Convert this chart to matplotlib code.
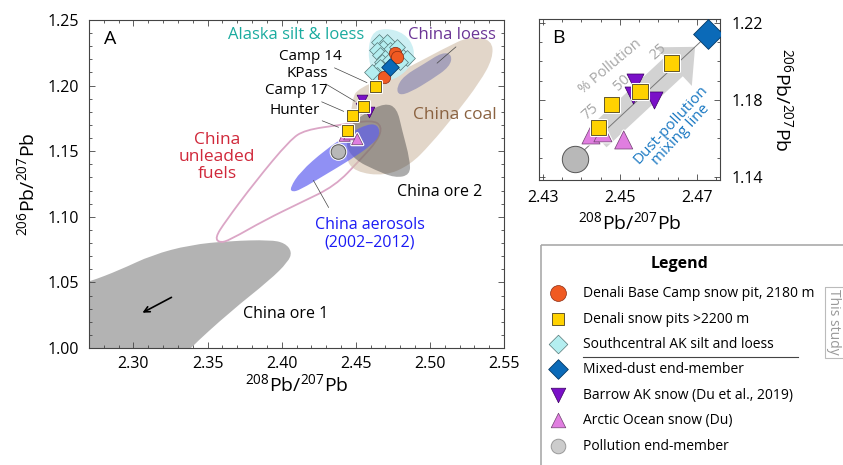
import numpy as np
import matplotlib
matplotlib.use('Agg')
import matplotlib.pyplot as plt
from matplotlib.path import Path
from matplotlib.patches import PathPatch, Rectangle
from matplotlib.ticker import MultipleLocator, FixedLocator
import matplotlib.patheffects as pe

plt.rcParams['font.family'] = ['Open Sans', 'DejaVu Sans']
plt.rcParams['mathtext.fontset'] = 'custom'
plt.rcParams['mathtext.rm'] = 'Open Sans'

# Pb isotope ratios: (208Pb/207Pb, 206Pb/207Pb)
base_camp_x = [2.4765, 2.4778, 2.4690]
base_camp_y = [1.2249, 1.2218, 1.2066]
pit_names = ['Hunter', 'Camp 17', 'KPass', 'Camp 14']
pits_x = [2.4445, 2.4479, 2.4552, 2.4635]
pits_y = [1.1655, 1.1774, 1.1842, 1.1992]
silt_x = [2.4657, 2.4711, 2.4684, 2.4731, 2.4643, 2.4778, 2.4663, 2.4697,
          2.4819, 2.4846, 2.4677, 2.4663, 2.4643, 2.4609, 2.4798, 2.4731]
silt_y = [1.2332, 1.2332, 1.2287, 1.2271, 1.2271, 1.2294, 1.2233, 1.2210,
          1.2218, 1.2210, 1.2180, 1.2142, 1.2081, 1.2104, 1.2180, 1.2195]
dust_x, dust_y = [2.4730], [1.2140]
barrow_x = [2.4539, 2.4534, 2.4588]
barrow_y = [1.1894, 1.1826, 1.1800]
arctic_x = [2.4425, 2.4456, 2.4510]
arctic_y = [1.1618, 1.1629, 1.1592]
pollution_x, pollution_y = [2.4383], [1.1494]

# source-field outlines (control points of smooth closed curves)
ore1_x = [2.2504, 2.2700, 2.2909, 2.3125, 2.3381, 2.3651, 2.3921, 2.4022,
          2.4070, 2.4043, 2.3921, 2.3651, 2.3368, 2.3179, 2.2504]
ore1_y = [1.0443, 1.0504, 1.0595, 1.0709, 1.0786, 1.0816, 1.0824, 1.0801,
          1.0732, 1.0656, 1.0519, 1.0275, 0.9985, 0.9757, 0.9757]
ore2_x = [2.4427, 2.4461, 2.4562, 2.4697, 2.4778, 2.4812, 2.4866, 2.4866,
          2.4765, 2.4630, 2.4495]
ore2_y = [1.1547, 1.1700, 1.1791, 1.1868, 1.1829, 1.1662, 1.1433, 1.1319,
          1.1296, 1.1357, 1.1433]
coal_x = [2.4515, 2.4798, 2.5102, 2.5271, 2.5419, 2.5426, 2.5338, 2.5169,
          2.5001, 2.4866, 2.4697, 2.4495, 2.4427, 2.4461, 2.4474]
coal_y = [1.1982, 1.2104, 1.2287, 1.2378, 1.2348, 1.2210, 1.2028, 1.1776,
          1.1548, 1.1395, 1.1311, 1.1342, 1.1448, 1.1662, 1.1890]
aero_x = [2.4056, 2.4124, 2.4292, 2.4461, 2.4582, 2.4650, 2.4663, 2.4609,
          2.4461, 2.4292, 2.4124, 2.4070]
aero_y = [1.1220, 1.1342, 1.1509, 1.1639, 1.1708, 1.1700, 1.1624, 1.1548,
          1.1433, 1.1319, 1.1205, 1.1189]
fuel_x = [2.3550, 2.3618, 2.3820, 2.4056, 2.4157, 2.4393, 2.4609, 2.4677,
          2.4650, 2.4528, 2.4360, 2.4124, 2.3888, 2.3651, 2.3584]
fuel_y = [1.0839, 1.0961, 1.1266, 1.1586, 1.1662, 1.1700, 1.1738, 1.1692,
          1.1586, 1.1433, 1.1235, 1.1106, 1.0976, 1.0824, 1.0801]
silt_field_x = [2.4600, 2.4700, 2.4830, 2.4900, 2.4880, 2.4760, 2.4640, 2.4580]
silt_field_y = [1.2400, 1.2440, 1.2400, 1.2280, 1.2150, 1.2040, 1.2030, 1.2200]
loess_x = [2.4775, 2.4825, 2.4960, 2.5085, 2.5150, 2.5135, 2.5010, 2.4870, 2.4790]
loess_y = [1.1985, 1.2075, 1.2165, 1.2255, 1.2235, 1.2145, 1.2045, 1.1950, 1.1925]


def smooth_patch(xs, ys, **kw):
    pts = np.column_stack([xs, ys])
    mids = (pts + np.roll(pts, -1, axis=0)) / 2
    verts = [mids[-1]]
    codes = [Path.MOVETO]
    for p, m in zip(pts, mids):
        verts += [p, m]
        codes += [Path.CURVE3, Path.CURVE3]
    return PathPatch(Path(verts, codes), **kw)


halo = [pe.Stroke(linewidth=2.2, foreground='white'), pe.Normal()]

styles = {
    'base': dict(marker='o', c='#f05a22', edgecolors='#8a2a10', linewidths=0.5),
    'pits': dict(marker='s', c='#ffd200', edgecolors='#4a4020', linewidths=0.6),
    'silt': dict(marker='D', c='#b4eef0', edgecolors='#557777', linewidths=0.5),
    'dust': dict(marker='D', c='#0b6ab8', edgecolors='#063a66', linewidths=0.6),
    'barrow': dict(marker='v', c='#7a10c8', edgecolors='#3a0060', linewidths=0.5),
    'arctic': dict(marker='^', c='#e07ee0', edgecolors='#704070', linewidths=0.5),
    'poll': dict(marker='o', c='#b8b8b8', edgecolors='#555555', linewidths=0.7),
}


def style_axes(ax):
    for s in ax.spines.values():
        s.set_color('#444444')
        s.set_linewidth(0.8)
    ax.tick_params(which='both', direction='in', top=True, right=True,
                   color='#444444', width=0.6, labelsize=11.5)
    ax.tick_params(which='major', length=4)
    ax.tick_params(which='minor', length=2.5)


fig = plt.figure(figsize=(8.43, 4.65), dpi=100)

# ---- panel A ----
ax = fig.add_axes([89 / 843, 1 - 348 / 465, 415 / 843, 328 / 465])
ax.set_xlim(2.27, 2.55)
ax.set_ylim(1.00, 1.25)
ax.xaxis.set_major_locator(MultipleLocator(0.05))
ax.xaxis.set_minor_locator(MultipleLocator(0.01))
ax.yaxis.set_major_locator(MultipleLocator(0.05))
ax.yaxis.set_minor_locator(MultipleLocator(0.01))
ax.xaxis.set_major_formatter('{x:.2f}')
ax.yaxis.set_major_formatter('{x:.2f}')
style_axes(ax)
ax.tick_params(axis='x', pad=6)
ax.tick_params(axis='y', pad=7)

ax.add_patch(smooth_patch(ore1_x, ore1_y, fc='#b3b3b3', ec='none', zorder=1))
ax.add_patch(smooth_patch(fuel_x, fuel_y, fc='none', ec='#dba6c6', lw=1.3, zorder=2))
ax.add_patch(smooth_patch(coal_x, coal_y, fc='#cfbca6', ec='none', alpha=0.6, zorder=2))
ax.add_patch(smooth_patch(ore2_x, ore2_y, fc='#3a3a3a', ec='none', alpha=0.42, zorder=3))
ax.add_patch(smooth_patch(aero_x, aero_y, fc='#5c5cf0', ec='none', alpha=0.68, zorder=3))
ax.add_patch(smooth_patch(silt_field_x, silt_field_y, fc='#c8eef2', ec='none', alpha=0.9, zorder=3))
ax.add_patch(smooth_patch(loess_x, loess_y, fc='#8080b0', ec='none', alpha=0.6, zorder=3))

ax.annotate('', xy=(2.3044, 1.0259), xytext=(2.3273, 1.0396),
            arrowprops=dict(arrowstyle='->', color='black', lw=1.2), zorder=4)

ax.scatter(silt_x, silt_y, s=65, zorder=5, **styles['silt'])
ax.scatter(base_camp_x, base_camp_y, s=80, zorder=6, **styles['base'])
ax.scatter(dust_x, dust_y, s=80, zorder=6, **styles['dust'])
ax.scatter(barrow_x, barrow_y, s=60, zorder=6, **styles['barrow'])
ax.scatter(arctic_x, arctic_y, s=65, zorder=6, path_effects=halo, **styles['arctic'])
ax.scatter(pits_x, pits_y, s=60, zorder=7, path_effects=halo, **styles['pits'])
ax.scatter(pollution_x, pollution_y, s=110, zorder=6, path_effects=halo, **styles['poll'])

label_pos = [(2.4259, 1.1814), (2.4313, 1.1959), (2.4313, 1.2096), (2.4407, 1.2218)]
for name, px, py, (tx, ty) in zip(pit_names, pits_x, pits_y, label_pos):
    ax.annotate(name, xy=(px, py), xytext=(tx, ty), ha='right', va='center',
                fontsize=11, zorder=8,
                arrowprops=dict(arrowstyle='-', color='#444444', lw=0.5,
                                shrinkA=1, shrinkB=7))

ax.text(0.035, 0.97, 'A', transform=ax.transAxes, fontsize=14, va='top', ha='left')
ax.text(2.4097, 1.2386, 'Alaska silt & loess', color='#1aab9f', fontsize=12,
        ha='center', va='center', zorder=8)
ax.text(2.5149, 1.2386, 'China loess', color='#6b3596', fontsize=12,
        ha='center', va='center', zorder=8)
ax.annotate('', xy=(2.5034, 1.2157), xytext=(2.5190, 1.2309),
            arrowprops=dict(arrowstyle='-', color='#444444', lw=0.5), zorder=8)
ax.text(2.5170, 1.1776, 'China coal', color='#8a6240', fontsize=12.5,
        ha='center', va='center', zorder=8)
ax.text(2.3564, 1.1456, 'China\nunleaded\nfuels', color='#d0283a', fontsize=12.5,
        ha='center', va='center', linespacing=1.05, zorder=8)
ax.text(2.5068, 1.1189, 'China ore 2', fontsize=11.5, ha='center', va='center', zorder=8)
ax.text(2.4596, 1.0869, 'China aerosols\n(2002\u20132012)', color='#1a1af5', fontsize=11.5,
        ha='center', va='center', linespacing=1.15, zorder=8)
ax.annotate('', xy=(2.4205, 1.1296), xytext=(2.4326, 1.1052),
            arrowprops=dict(arrowstyle='-', color='#444444', lw=0.5), zorder=8)
ax.text(2.4029, 1.0260, 'China ore 1', fontsize=11.5, ha='center', va='center', zorder=8)

ax.set_xlabel('$^{208}$Pb/$^{207}$Pb', fontsize=14, labelpad=1)
ax.set_ylabel('$^{206}$Pb/$^{207}$Pb', fontsize=14, labelpad=6)

# ---- panel B: close-up of the mixing line ----
bx = fig.add_axes([539 / 843, 1 - 180 / 465, 181 / 843, 161 / 465])
bx.set_xlim(2.429, 2.476)
bx.set_ylim(1.1384, 1.222)
bx.xaxis.set_major_locator(FixedLocator([2.43, 2.45, 2.47]))
bx.xaxis.set_minor_locator(MultipleLocator(0.005))
bx.yaxis.set_major_locator(FixedLocator([1.14, 1.18, 1.22]))
bx.yaxis.set_minor_locator(MultipleLocator(0.01))
bx.xaxis.set_major_formatter('{x:.2f}')
bx.yaxis.set_major_formatter('{x:.2f}')
style_axes(bx)
bx.tick_params(axis='y', labelleft=False, labelright=True, pad=8)
bx.tick_params(axis='x', pad=7)
bx.yaxis.set_label_position('right')

mix_x = [pollution_x[0], dust_x[0]]
mix_y = [pollution_y[0], dust_y[0]]
t0, t1 = 0.17, 0.90
bx.annotate('', xy=(mix_x[0] + t1 * (mix_x[1] - mix_x[0]), mix_y[0] + t1 * (mix_y[1] - mix_y[0])),
            xytext=(mix_x[0] + t0 * (mix_x[1] - mix_x[0]), mix_y[0] + t0 * (mix_y[1] - mix_y[0])),
            arrowprops=dict(arrowstyle='simple,head_length=1.1,head_width=2.0,tail_width=1.0',
                            mutation_scale=19, fc='#d2d2d2', ec='none', shrinkA=0, shrinkB=0),
            zorder=1)
bx.plot(mix_x, mix_y, color='#777777', lw=0.7, zorder=2)

bx.scatter(pollution_x, pollution_y, s=360, zorder=5, **styles['poll'])
bx.scatter(dust_x, dust_y, s=230, zorder=5, **styles['dust'])
bx.scatter(barrow_x, barrow_y, s=150, zorder=5, **styles['barrow'])
bx.scatter(arctic_x, arctic_y, s=170, zorder=5, path_effects=halo, **styles['arctic'])
bx.scatter(pits_x, pits_y, s=120, zorder=6, path_effects=halo, **styles['pits'])

bx.text(0.07, 0.94, 'B', transform=bx.transAxes, fontsize=14, va='top', ha='left')
bx.text(2.4474, 1.1971, '% Pollution', color='#a6a6a6', fontsize=10.5, rotation=40,
        ha='center', va='center')
for lbl, (tx, ty) in zip(['25', '50', '75'], [(2.4599, 1.2049), (2.4505, 1.1888), (2.4422, 1.1738)]):
    bx.text(tx, ty, lbl, color='#a6a6a6', fontsize=10.5, rotation=42, ha='center', va='center')
bx.text(2.4645, 1.1644, 'Dust-pollution\nmixing line', color='#1a78c2', fontsize=11,
        rotation=47, ha='center', va='center', linespacing=1.0, zorder=7)

bx.set_xlabel('$^{208}$Pb/$^{207}$Pb', fontsize=14, labelpad=4)
bx.set_ylabel('$^{206}$Pb/$^{207}$Pb', fontsize=14, rotation=270, labelpad=22)

# ---- legend panel (box runs off the right and bottom edges) ----
lg = fig.add_axes([0, 0, 1, 1], facecolor='none')
lg.set_xlim(0, 843)
lg.set_ylim(465, 0)
lg.axis('off')
lg.add_patch(Rectangle((541, 245), 320, 240, fc='none', ec='#aaaaaa', lw=1.2))
lg.text(680, 264, 'Legend', fontsize=11.5, fontweight='bold', ha='center', va='center')

entries = [
    ('base', 'Denali Base Camp snow pit, 2180 m', 130),
    ('pits', 'Denali snow pits >2200 m', 80),
    ('silt', 'Southcentral AK silt and loess', 90),
    ('dust', 'Mixed-dust end-member', 100),
    ('barrow', 'Barrow AK snow (Du et al., 2019)', 110),
    ('arctic', 'Arctic Ocean snow (Du)', 110),
    ('poll', 'Pollution end-member', 110),
]
rows_y = [293, 319, 344, 369, 395, 420, 446]
for (key, text, size), ry in zip(entries, rows_y):
    st = dict(styles[key])
    if key == 'poll':
        st['c'] = '#cccccc'
        st['edgecolors'] = '#999999'
    lg.scatter([558], [ry], s=size, **st)
    lg.text(583, ry, text, fontsize=10, ha='left', va='center')
lg.plot([583, 798], [357, 357], color='#444444', lw=0.8)
lg.add_patch(Rectangle((825, 287), 30, 71, fc='none', ec='#bbbbbb', lw=0.8))
lg.text(834, 322, 'This study', fontsize=10, color='#999999', rotation=270,
        ha='center', va='center')

fig.savefig('out.png', dpi=100, facecolor='white')
